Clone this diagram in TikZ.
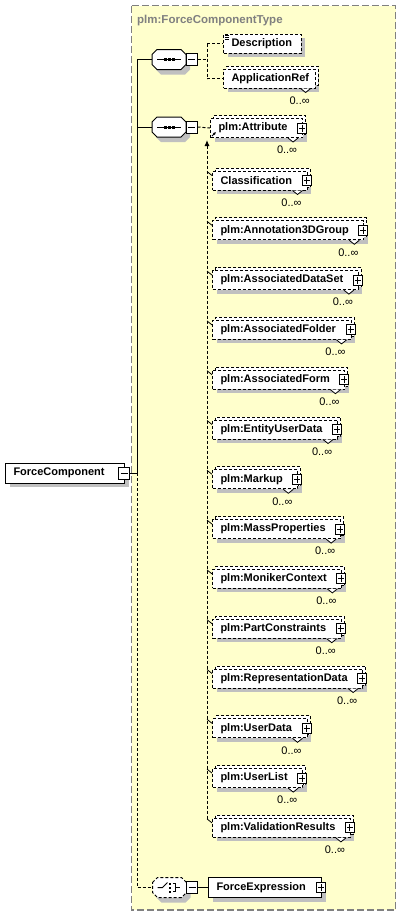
\documentclass[tikz,border=0pt]{standalone}
\usepackage{fontspec}
\setmainfont{Liberation Sans}
\usetikzlibrary{shadows,calc,arrows.meta}
\definecolor{yellowbg}{RGB}{255,255,204}
\definecolor{shadowgray}{RGB}{192,192,192}
\definecolor{titlegray}{RGB}{128,128,128}
\tikzset{
  dsh/.style={dash pattern=on 3pt off 2pt},
  elem/.style={draw, fill=white, line width=1pt, inner xsep=0pt, inner ysep=0pt,
    minimum height=19pt, anchor=west, font=\bfseries\fontsize{11}{13}\selectfont},
  dshadow/.style={drop shadow={shadow xshift=4pt, shadow yshift=-4pt, fill=shadowgray, opacity=1}},
  optel/.style={elem, dsh, dshadow},
  stackel/.style={optel, general shadow={shadow xshift=3pt, shadow yshift=3pt, draw=black, fill=white, dsh, line width=1pt}},
  pbox/.style={draw, fill=white, line width=1pt, solid, inner sep=0pt, minimum width=9pt, minimum height=10pt},
  plusbox/.style={pbox, path picture={
      \draw[line width=1pt] ([xshift=1.5pt]path picture bounding box.west) -- ([xshift=-1.5pt]path picture bounding box.east);
      \draw[line width=1pt] ([yshift=-1.5pt]path picture bounding box.north) -- ([yshift=1.5pt]path picture bounding box.south);}},
  minusbox/.style={pbox, minimum width=11pt, minimum height=12pt, path picture={
      \draw[line width=1pt] ([xshift=2pt]path picture bounding box.west) -- ([xshift=-2pt]path picture bounding box.east);}},
  mult/.style={font=\fontsize{11}{13}\selectfont, inner sep=0pt},
  notch/.style={line width=0.8pt, fill=white},
  conn/.style={line width=1pt},
}
\newcommand\subel[4]{%
  \node[stackel] (#1) at (#2,#3+1) {\hspace*{8pt}#4\hspace*{15pt}};
  \node[plusbox] (#1-p) at ($(#1.east)+(-1,0)$) {};
  \draw[notch] ($(#1.south east)+(-15,0)$) -- ++(5,4) -- ++(5,-4);
  \node[mult] (#1-m) at ($(#1.south east)+(-16,12)$) {0..∞};
}
\newcommand\octo[1]{%
  (-17,-5) -- (-12,-10) -- (12,-10) -- (17,-5) -- (17,5) -- (12,10) -- (-12,10) -- (-17,5) -- cycle}
\begin{document}
\begin{tikzpicture}[x=1pt,y=-1pt]
\useasboundingbox (0,0) rectangle (400,916);
% type frame
\draw[draw=titlegray, fill=yellowbg, line width=1.2pt, dash pattern=on 7pt off 3pt] (131.5,5.5) rectangle (395.5,910);
\node[anchor=base west, inner sep=0pt, text=titlegray, font=\bfseries\fontsize{11.5}{13}\selectfont] (ttl) at (137,23) {plm:ForceComponentType};

% root element
\node[elem, minimum height=20pt, dshadow] (fc) at (5,473) {\hspace*{8pt}ForceComponent\hspace*{20pt}};
\node[minusbox] (fcm) at ($(fc.east)+(-1,0)$) {};

% trunk coordinates
\coordinate (tA) at (137,59.5);
\coordinate (tB) at (137,127);
\coordinate (tC) at (137,473);
\coordinate (tD) at (137,887.5);

% sequence 1
\begin{scope}[shift={(169,59.5)}]
  \fill[shadowgray] [shift={(4,5)}] \octo{};
  \draw[fill=white, line width=1pt] \octo{};
  \draw[line width=1pt] (-12,0) -- (12,0);
  \foreach \dx in {-4,0,4} \fill (\dx-1.5,-1.5) rectangle (\dx+1.5,1.5);
\end{scope}
\node[minimum width=34pt, minimum height=20pt, inner sep=0pt] (s1) at (169,59.5) {};
\node[minusbox] (s1m) at (191.5,59.5) {};

% sequence 2
\begin{scope}[shift={(169,127)}]
  \fill[shadowgray] [shift={(4,5)}] \octo{};
  \draw[fill=white, line width=1pt] \octo{};
  \draw[line width=1pt] (-12,0) -- (12,0);
  \foreach \dx in {-4,0,4} \fill (\dx-1.5,-1.5) rectangle (\dx+1.5,1.5);
\end{scope}
\node[minimum width=34pt, minimum height=20pt, inner sep=0pt] (s2) at (169,127) {};
\node[minusbox] (s2m) at (191.5,127) {};

% choice
\begin{scope}[shift={(169.5,887.5)}]
  \fill[shadowgray] [shift={(4,5)}] \octo{};
  \draw[fill=white, line width=1pt, dsh] \octo{};
  \draw[line width=1pt] (-12,0) -- (-7,0) -- (-2,-5);
  \foreach \dy in {-4,0,4} \fill (-0.5,\dy-1) rectangle (1.5,\dy+1);
  \draw[line width=1pt] (3,-4) -- (6,-4) -- (6,4) -- (3,4);
  \draw[line width=1pt] (6,0) -- (10,0);
\end{scope}
\node[minimum width=34pt, minimum height=20pt, inner sep=0pt] (ch) at (169.5,887.5) {};
\node[minusbox] (chm) at (192,887.5) {};

% trunk connectors
\draw[conn] (fcm.east) -- (tC);
\draw[conn] (tA) -- (tC);
\draw[conn] (tA) -- (s1.west);
\draw[conn] (tB) -- (s2.west);
\draw[conn, dsh] (tC) -- (tD) -- (ch.west);

% sequence 1 children
\node[optel] (desc) at (223,43.5) {\hspace*{8pt}Description\hspace*{9pt}};
\foreach \dy in {2,4,6} \draw[line width=0.7pt] ($(desc.north west)+(2,\dy)$) -- ++(4,0);
\node[stackel] (appref) at (223,78.5) {\hspace*{8pt}ApplicationRef\hspace*{6pt}};
\draw[notch] ($(appref.south east)+(-15,0)$) -- ++(5,4) -- ++(5,-4);
\node[mult] (appref-m) at ($(appref.south east)+(-16,12)$) {0..∞};
\coordinate (j1) at (207,59.5);
\coordinate (j1a) at (207,43.5);
\coordinate (j1b) at (207,78.5);
\draw[conn, dsh] (s1m.east) -- (j1);
\draw[conn, dsh] (j1a) -- (j1b);
\draw[conn, dsh] (j1a) -- (desc.west);
\draw[conn, dsh] (j1b) -- (appref.west);

% sequence 2 child: head of substitution group
\subel{attr}{210}{127}{plm:Attribute}
\draw[-{Latex[length=3pt,width=3pt]}, line width=1pt] ($(attr.south west)+(2,-2)$) -- ++(4,-4);
\draw[conn, dsh] (s2m.east) -- (attr.west);

% substitution group members
\foreach \t [count=\k from 0] in {Classification,plm:Annotation3DGroup,plm:AssociatedDataSet,plm:AssociatedFolder,plm:AssociatedForm,plm:EntityUserData,plm:Markup,plm:MassProperties,plm:MonikerContext,plm:PartConstraints,plm:RepresentationData,plm:UserData,plm:UserList,plm:ValidationResults}{
  \pgfmathsetmacro\yy{179.5+49.8*\k}
  \subel{m\k}{212}{\yy}{\t}
  \coordinate (t\k) at (207,\yy-8);
  \draw[line width=0.8pt] (t\k) -- ([yshift=5pt]m\k.west);
}
\coordinate (vtop) at (207,140);
\draw[conn, dsh, {Latex[length=6pt,width=5pt]}-] (vtop) -- (t13);

% choice child
\node[elem, minimum height=20pt, dshadow] (fe) at (208,887.5) {\hspace*{8pt}ForceExpression\hspace*{16pt}};
\node[plusbox] (fe-p) at ($(fe.east)+(-1,0)$) {};
\draw[conn] (chm.east) -- (fe.west);
\end{tikzpicture}
\end{document}
